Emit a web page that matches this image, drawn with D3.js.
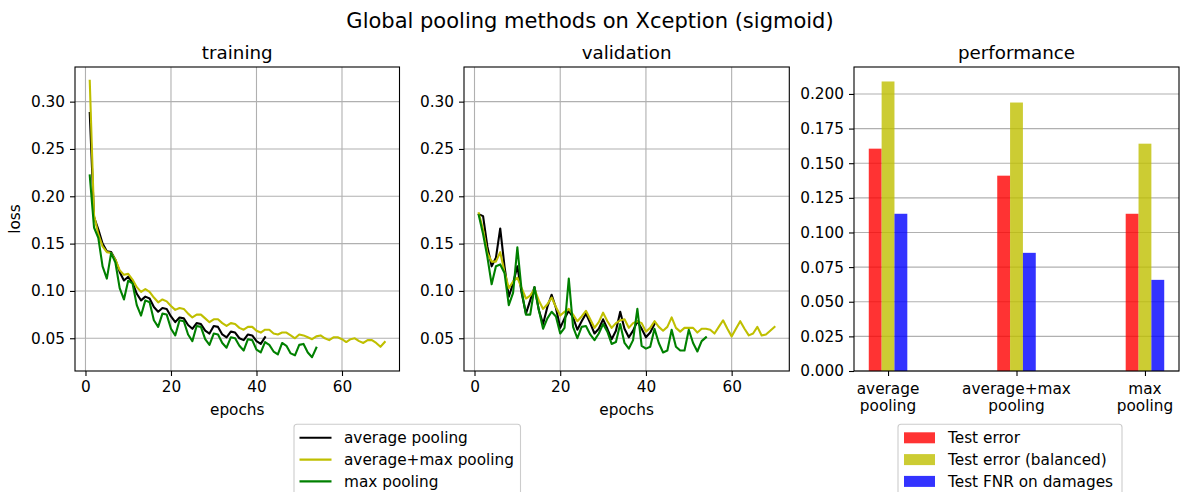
<!DOCTYPE html>
<html>
<head>
<meta charset="utf-8">
<script src="https://cdn.jsdelivr.net/npm/d3@7"></script>
<style>
  html, body { margin: 0; padding: 0; background: #ffffff; }
  svg text { font-family: "DejaVu Sans", sans-serif; fill: #000; }
</style>
</head>
<body>
<svg id="chart" width="1180" height="492"></svg>
<script>
// ---------------- data ----------------
const seriesNames = ["average pooling", "average+max pooling", "max pooling"];

const trainAvg = [0.288,0.178,0.165,0.150,0.142,0.141,0.133,0.120,0.111,0.115,0.109,0.097,0.090,0.094,0.092,0.083,0.078,0.082,0.081,0.073,0.067,0.072,0.071,0.064,0.060,0.066,0.065,0.058,0.055,0.063,0.062,0.054,0.051,0.057,0.056,0.050,0.048,0.054,0.053,0.047,0.044,0.051];
const trainAvgMax = [0.322,0.180,0.160,0.147,0.141,0.140,0.133,0.122,0.117,0.118,0.112,0.104,0.099,0.102,0.099,0.093,0.088,0.091,0.089,0.084,0.080,0.082,0.081,0.076,0.072,0.075,0.075,0.071,0.067,0.070,0.070,0.066,0.063,0.066,0.065,0.061,0.059,0.062,0.062,0.058,0.056,0.059,0.059,0.055,0.054,0.056,0.056,0.053,0.050,0.054,0.053,0.051,0.049,0.052,0.053,0.050,0.048,0.051,0.051,0.049,0.046,0.049,0.050,0.047,0.045,0.048,0.048,0.045,0.041,0.046];
const trainMax = [0.222,0.167,0.156,0.126,0.113,0.140,0.130,0.103,0.091,0.111,0.108,0.085,0.074,0.090,0.088,0.069,0.062,0.076,0.075,0.060,0.053,0.069,0.068,0.054,0.047,0.063,0.062,0.049,0.043,0.055,0.054,0.045,0.040,0.051,0.050,0.042,0.037,0.049,0.048,0.038,0.035,0.046,0.043,0.036,0.033,0.045,0.042,0.034,0.032,0.043,0.044,0.035,0.030,0.040];

const valAvg = [0.181,0.179,0.147,0.126,0.135,0.166,0.126,0.094,0.108,0.126,0.098,0.076,0.090,0.104,0.080,0.065,0.083,0.096,0.082,0.061,0.071,0.079,0.072,0.059,0.068,0.076,0.066,0.055,0.060,0.070,0.060,0.049,0.058,0.078,0.060,0.051,0.058,0.068,0.060,0.051,0.056,0.065];
const valAvgMax = [0.182,0.165,0.140,0.131,0.131,0.141,0.120,0.103,0.110,0.114,0.103,0.092,0.095,0.102,0.090,0.081,0.086,0.093,0.083,0.074,0.078,0.081,0.075,0.068,0.073,0.079,0.070,0.061,0.067,0.077,0.068,0.061,0.066,0.069,0.070,0.061,0.066,0.068,0.066,0.057,0.061,0.068,0.062,0.058,0.062,0.072,0.061,0.057,0.061,0.061,0.061,0.056,0.060,0.060,0.059,0.055,0.062,0.069,0.060,0.052,0.060,0.068,0.060,0.053,0.055,0.062,0.053,0.054,0.058,0.062];
const valMax = [0.180,0.160,0.136,0.107,0.126,0.128,0.119,0.085,0.098,0.146,0.100,0.075,0.075,0.104,0.080,0.060,0.071,0.078,0.073,0.055,0.061,0.113,0.062,0.050,0.062,0.063,0.054,0.048,0.055,0.065,0.057,0.044,0.046,0.065,0.045,0.039,0.048,0.081,0.042,0.039,0.041,0.060,0.045,0.035,0.037,0.059,0.041,0.037,0.037,0.059,0.045,0.036,0.047,0.051];

const epochTicks = [0, 20, 40, 60];
const lossTicks = [0.05, 0.10, 0.15, 0.20, 0.25, 0.30];

const barCategories = ["average\npooling", "average+max\npooling", "max\npooling"];
const barSeriesNames = ["Test error", "Test error (balanced)", "Test FNR on damages"];
const testError = [0.1605, 0.141, 0.1135];
const testErrorBalanced = [0.209, 0.1938, 0.1641];
const testFNR = [0.1135, 0.0853, 0.0658];
const perfTicks = [0.000, 0.025, 0.050, 0.075, 0.100, 0.125, 0.150, 0.175, 0.200];

// ---------------- styles ----------------
const lineColors = ["#000000", "#bfbf00", "#008000"];
const barColors = ["#ff0000", "#bfbf00", "#0000ff"];
const FONT = 15.3;
const GRID = "#b0b0b0";

const svg = d3.select("#chart");

// suptitle
svg.append("text").attr("x", 590).attr("y", 27.5).attr("text-anchor", "middle")
  .style("font-size", "21px").text("Global pooling methods on Xception (sigmoid)");

// shared y scale for loss
const allLoss = [].concat(trainAvg, trainAvgMax, trainMax, valAvg, valAvgMax, valMax);
const lmin = d3.min(allLoss), lmax = d3.max(allLoss);
const lpad = (lmax - lmin) * 0.05;
const plotTop = 67, plotBottom = 371;
const yLoss = d3.scaleLinear().domain([lmin - lpad, lmax + lpad]).range([plotBottom, plotTop]);

const maxEpoch = d3.max([trainAvg.length, trainAvgMax.length, trainMax.length]);
const epad = (maxEpoch - 1) * 0.05;

function linePanel(x0, x1, title, seriesList, showYLabel) {
  const x = d3.scaleLinear().domain([1 - epad, maxEpoch + epad]).range([x0, x1]);
  const g = svg.append("g");
  // grid
  g.selectAll(".gx").data(epochTicks).enter().append("line")
    .attr("x1", d => x(d)).attr("x2", d => x(d)).attr("y1", plotTop).attr("y2", plotBottom)
    .attr("stroke", GRID).attr("stroke-width", 1.1);
  g.selectAll(".gy").data(lossTicks).enter().append("line")
    .attr("x1", x0).attr("x2", x1).attr("y1", d => yLoss(d)).attr("y2", d => yLoss(d))
    .attr("stroke", GRID).attr("stroke-width", 1.1);
  // lines
  const clipId = "clip" + Math.round(x0);
  svg.append("clipPath").attr("id", clipId).append("rect")
    .attr("x", x0).attr("y", plotTop).attr("width", x1 - x0).attr("height", plotBottom - plotTop);
  const lg = d3.line().x((d, i) => x(i + 1)).y(d => yLoss(d));
  seriesList.forEach((s, k) => {
    g.append("path").datum(s).attr("d", lg).attr("fill", "none")
      .attr("stroke", lineColors[k]).attr("stroke-width", 2.1)
      .attr("stroke-linejoin", "round").attr("stroke-linecap", "square")
      .attr("clip-path", "url(#" + clipId + ")");
  });
  // axes
  const ax = g.append("g").attr("transform", `translate(0,${plotBottom})`)
    .call(d3.axisBottom(x).tickValues(epochTicks).tickFormat(d3.format("d")).tickSizeInner(5).tickSizeOuter(0).tickPadding(5));
  const ay = g.append("g").attr("transform", `translate(${x0},0)`)
    .call(d3.axisLeft(yLoss).tickValues(lossTicks).tickFormat(d3.format(".2f")).tickSizeInner(5).tickSizeOuter(0).tickPadding(5));
  [ax, ay].forEach(a => {
    a.select(".domain").remove();
    a.selectAll(".tick line").attr("stroke", "#000").attr("stroke-width", 1.1);
    a.selectAll(".tick text").style("font-size", FONT + "px").style("font-family", "DejaVu Sans");
  });
  // frame
  g.append("rect").attr("x", x0).attr("y", plotTop).attr("width", x1 - x0).attr("height", plotBottom - plotTop)
    .attr("fill", "none").attr("stroke", "#000").attr("stroke-width", 1.1);
  // title + labels
  g.append("text").attr("x", (x0 + x1) / 2).attr("y", 58.5).attr("text-anchor", "middle")
    .style("font-size", "18.3px").text(title);
  g.append("text").attr("x", (x0 + x1) / 2).attr("y", 414.5).attr("text-anchor", "middle")
    .style("font-size", FONT + "px").text("epochs");
  if (showYLabel) {
    g.append("text").attr("transform", `translate(20,${(plotTop + plotBottom) / 2}) rotate(-90)`)
      .attr("text-anchor", "middle").style("font-size", FONT + "px").text("loss");
  }
}

linePanel(75, 399.5, "training", [trainAvg, trainAvgMax, trainMax], true);
linePanel(464, 789.3, "validation", [valAvg, valAvgMax, valMax], false);

// ---------------- performance bar panel ----------------
(function () {
  const x0 = 854, x1 = 1179;
  const bw = 0.1;
  const xs = d3.scaleLinear().domain([-1.5 * bw - (2 + 3 * bw) * 0.05, 2 + 1.5 * bw + (2 + 3 * bw) * 0.05]).range([x0, x1]);
  const bmax = d3.max([].concat(testError, testErrorBalanced, testFNR));
  const ys = d3.scaleLinear().domain([0, bmax * 1.05]).range([plotBottom, plotTop]);
  const g = svg.append("g");
  g.selectAll(".gy").data(perfTicks).enter().append("line")
    .attr("x1", x0).attr("x2", x1).attr("y1", d => ys(d)).attr("y2", d => ys(d))
    .attr("stroke", GRID).attr("stroke-width", 1.1);
  const sets = [testError, testErrorBalanced, testFNR];
  sets.forEach((vals, k) => {
    g.selectAll(".b" + k).data(vals).enter().append("rect")
      .attr("x", (d, i) => xs(i + (k - 1) * bw - bw / 2))
      .attr("width", (d, i) => xs(i + (k - 1) * bw + bw / 2) - xs(i + (k - 1) * bw - bw / 2))
      .attr("y", d => ys(d)).attr("height", d => ys(0) - ys(d))
      .attr("fill", barColors[k]).attr("fill-opacity", 0.8);
  });
  const ay = g.append("g").attr("transform", `translate(${x0},0)`)
    .call(d3.axisLeft(ys).tickValues(perfTicks).tickFormat(d3.format(".3f")).tickSizeInner(5).tickSizeOuter(0).tickPadding(5));
  const ax = g.append("g").attr("transform", `translate(0,${plotBottom})`)
    .call(d3.axisBottom(xs).tickValues([0, 1, 2]).tickFormat("").tickSizeInner(5).tickSizeOuter(0).tickPadding(5));
  [ax, ay].forEach(a => {
    a.select(".domain").remove();
    a.selectAll(".tick line").attr("stroke", "#000").attr("stroke-width", 1.1);
    a.selectAll(".tick text").style("font-size", FONT + "px").style("font-family", "DejaVu Sans");
  });
  barCategories.forEach((c, i) => {
    const t = g.append("text").attr("text-anchor", "middle").style("font-size", FONT + "px");
    c.split("\n").forEach((line, j) => {
      t.append("tspan").attr("x", xs(i)).attr("y", 393.5 + j * 17.6).text(line);
    });
  });
  g.append("rect").attr("x", x0).attr("y", plotTop).attr("width", x1 - x0).attr("height", plotBottom - plotTop)
    .attr("fill", "none").attr("stroke", "#000").attr("stroke-width", 1.1);
  g.append("text").attr("x", (x0 + x1) / 2).attr("y", 58.5).attr("text-anchor", "middle")
    .style("font-size", "18.3px").text("performance");
})();

// ---------------- legends ----------------
function legend(x, y, w, names, drawHandle) {
  const g = svg.append("g");
  g.append("rect").attr("x", x).attr("y", y).attr("width", w).attr("height", 80)
    .attr("rx", 3).attr("fill", "#fff").attr("fill-opacity", 0.8)
    .attr("stroke", "#cccccc").attr("stroke-width", 1.1);
  names.forEach((n, i) => {
    const cy = y + 13.5 + i * 21.8;
    drawHandle(g, i, cy);
    g.append("text").attr("x", x + 50).attr("y", cy).attr("dy", "0.35em")
      .style("font-size", FONT + "px").text(n);
  });
}
legend(294, 424.3, 226.5, seriesNames, (g, i, cy) => {
  g.append("line").attr("x1", 299.5).attr("x2", 331.5).attr("y1", cy).attr("y2", cy)
    .attr("stroke", lineColors[i]).attr("stroke-width", 2.1);
});
legend(898, 424.3, 224, barSeriesNames, (g, i, cy) => {
  g.append("rect").attr("x", 904).attr("y", cy - 5.5).attr("width", 31).attr("height", 11)
    .attr("fill", barColors[i]).attr("fill-opacity", 0.8);
});
</script>
</body>
</html>
